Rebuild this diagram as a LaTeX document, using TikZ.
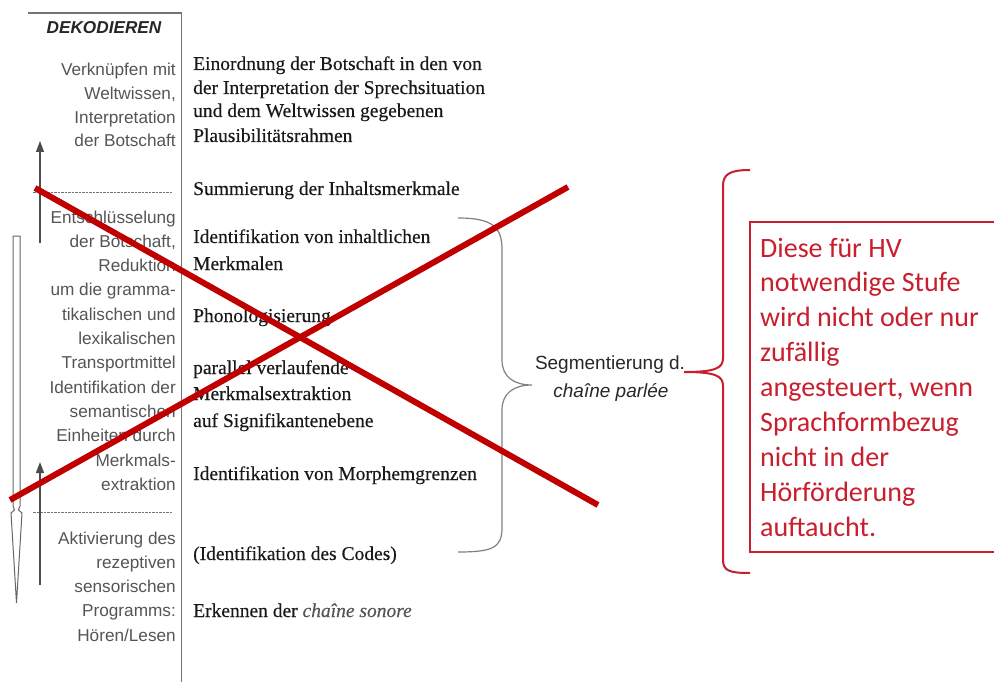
\documentclass[tikz,border=0pt]{standalone}
\usepackage{fontspec}
\setmainfont{Liberation Serif}[FakeBold=0.35]
\setsansfont{Liberation Sans}
\newfontfamily\calib{Carlito}
\usetikzlibrary{arrows.meta}
\definecolor{xred}{RGB}{192,0,0}
\definecolor{bred}{RGB}{200,30,45}
\definecolor{lgray}{RGB}{85,85,85}
\definecolor{rulegray}{RGB}{115,115,115}
\definecolor{segcol}{RGB}{40,40,40}
\begin{document}
\begin{tikzpicture}[x=1pt,y=-1pt,
  lefttxt/.style={anchor=base east,inner sep=0,font=\sffamily\fontsize{17.2}{20}\selectfont,text=lgray},
  righttxt/.style={anchor=base west,inner sep=0,font=\rmfamily\fontsize{19.5}{24}\selectfont,text=black!90},
  notetxt/.style={anchor=base west,inner sep=0,font=\calib\fontsize{28}{34}\selectfont,text=bred},
  segtxt/.style={anchor=base,inner sep=0,font=\sffamily\fontsize{19}{23}\selectfont,text=segcol},
  rule/.style={draw=rulegray,line width=1.5pt},
  dashrule/.style={draw=rulegray,line width=0.9pt,dash pattern=on 2.5pt off 1pt},
  thinarrow/.style={draw=black!70,line width=1.1pt,-{Triangle[length=11pt,width=8pt]}},
  crossline/.style={draw=xred,line width=6pt},
  graybrace/.style={draw=black!50,line width=1.2pt},
  redbrace/.style={draw=bred,line width=2pt},
]
\useasboundingbox (0,0) rectangle (994,682);
\fill[white] (0,0) rectangle (994,682);

% frame lines
\coordinate (tl) at (28,13);
\coordinate (tr) at (181.5,13);
\coordinate (br) at (181.5,684);
\draw[rule] (tl) -- (tr) -- (br);
\coordinate (d1a) at (33,192.5);
\coordinate (d1b) at (173,192.5);
\coordinate (d2a) at (33,512.5);
\coordinate (d2b) at (173,512.5);
\draw[dashrule] (d1a) -- (d1b);
\draw[dashrule] (d2a) -- (d2b);

% heading
\node[anchor=base,inner sep=0,font=\sffamily\bfseries\itshape\fontsize{17.2}{20}\selectfont,text=black!85] (head) at (104,34) {DEKODIEREN};

% left column
\foreach \txt [count=\i from 0] in {Verknüpfen mit,{Weltwissen,},Interpretation,der Botschaft}
  \node[lefttxt] (a\i) at (176,{76+23.6*\i}) {\txt};
\foreach \txt [count=\i from 0] in {Entschlüsselung,{der Botschaft,},Reduktion,um die gramma-,tikalischen und,lexikalischen,Transportmittel,Identifikation der,semantischen,Einheiten durch,Merkmals-,extraktion}
  \node[lefttxt] (b\i) at (176,{223+24.3*\i}) {\txt};
\foreach \txt [count=\i from 0] in {Aktivierung des,rezeptiven,sensorischen,Programms:,Hören/Lesen}
  \node[lefttxt] (c\i) at (176,{544+24.3*\i}) {\txt};

% right column
\foreach \yy/\txt [count=\i] in {70/Einordnung der Botschaft in den von,94/der Interpretation der Sprechsituation,117/und dem Weltwissen gegebenen,142/Plausibilitätsrahmen,195/Summierung der Inhaltsmerkmale,243/Identifikation von inhaltlichen,270/Merkmalen,322/Phonologisierung,374/parallel verlaufende,400/Merkmalsextraktion,427/auf Signifikantenebene,480/Identifikation von Morphemgrenzen,560/(Identifikation des Codes),617/{Erkennen der {\color{lgray}\itshape chaîne sonore}}}
  \node[righttxt] (r\i) at (193,\yy) {\txt};

% arrows on the left
\coordinate (u1) at (40,243);
\coordinate (u1t) at (40,141);
\draw[thinarrow] (u1) -- (u1t);
\coordinate (u2) at (40,585);
\coordinate (u2t) at (40,462);
\draw[thinarrow] (u2) -- (u2t);
\draw[draw=black!60,line width=1pt,fill=white]
  (13,236) -- (13,506) -- (14.5,510) -- (11,513) -- (16.5,603) -- (22,513) -- (18.5,510) -- (20,506) -- (20,236) -- cycle;

% gray brace
\draw[graybrace] (458,218) .. controls (494,218) and (502,228) .. (502,250) -- (502,360)
  .. controls (502,377) and (514,385) .. (532,385)
  .. controls (514,385) and (502,393) .. (502,410) -- (502,528)
  .. controls (502,548) and (492,552) .. (458,552);

\node[segtxt] (seg1) at (610,369) {Segmentierung d.};
\node[segtxt,font=\sffamily\itshape\fontsize{19}{23}\selectfont] (seg2) at (611,397) {chaîne parlée};

% red brace
\draw[redbrace] (750,170) .. controls (730,170) and (723,174) .. (723,186) -- (723,358)
  .. controls (723,368) and (716,372) .. (684,372)
  .. controls (716,372) and (723,376) .. (723,386) -- (723,560)
  .. controls (723,571) and (730,573) .. (750,573);

% red note box
\draw[draw=bred,line width=1.3pt] (750,222) rectangle (1000,552);
\foreach \txt [count=\i from 0] in {Diese für HV,notwendige  Stufe,wird nicht oder nur,zufällig,{angesteuert,  wenn},Sprachformbezug,nicht in der,Hörförderung,auftaucht.}
  \node[notetxt] (n\i) at (760,{257+34.9*\i}) {\txt};

% red cross
\coordinate (x1) at (35,188);
\coordinate (x2) at (598,505);
\coordinate (x3) at (10,500);
\coordinate (x4) at (568,187);
\draw[crossline] (x1) -- (x2);
\draw[crossline] (x3) -- (x4);
\end{tikzpicture}
\end{document}
